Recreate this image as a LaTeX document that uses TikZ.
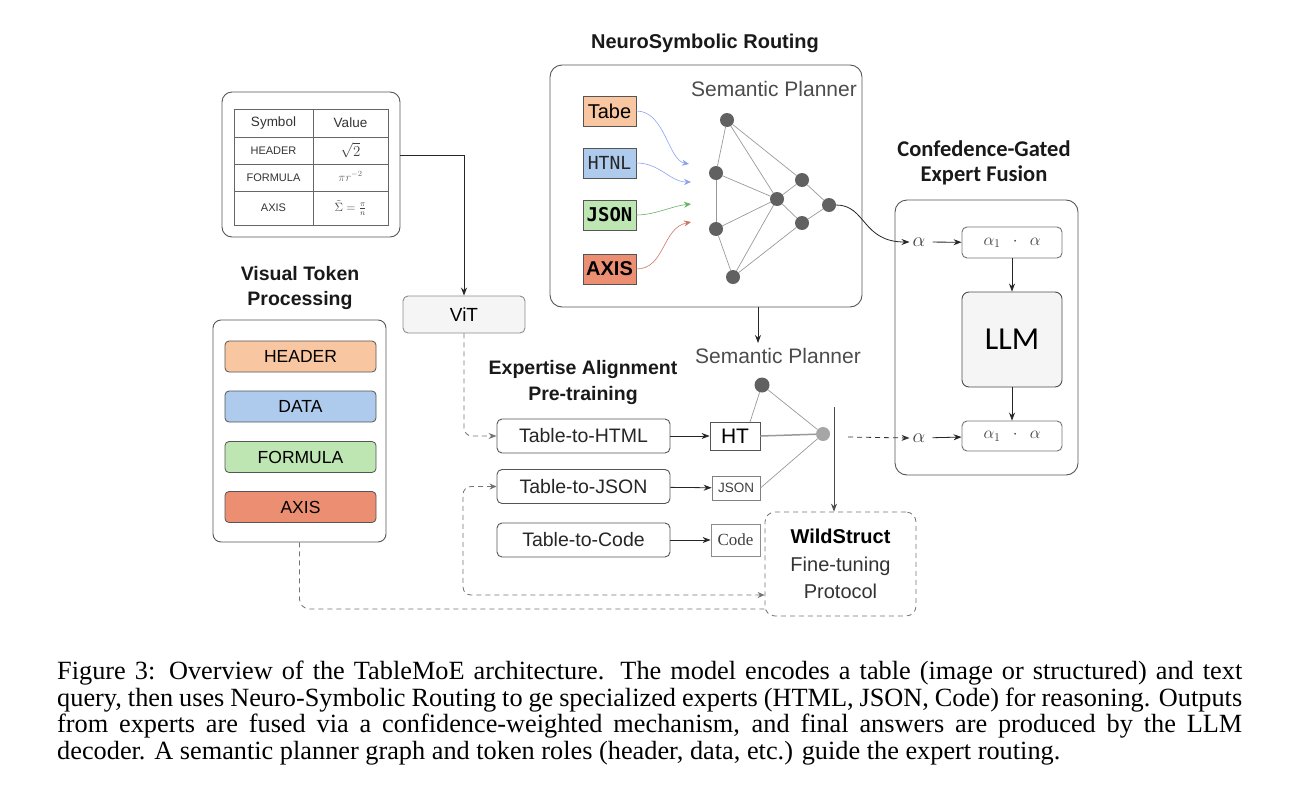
\documentclass[tikz,border=0pt]{standalone}
\usepackage{fix-cm}
\usepackage{fontspec}
\setmainfont{Liberation Serif}
\setsansfont{Liberation Sans}
\newfontfamily\carl{Carlito}
\newfontfamily\dmono{DejaVu Sans Mono}
\usetikzlibrary{arrows.meta,calc}
\newcommand\fsz[2]{\fontsize{#1}{#2}\selectfont}
\definecolor{corg}{HTML}{F8C6A0}
\definecolor{cblu}{HTML}{AECAEC}
\definecolor{cgrn}{HTML}{BDE6B2}
\definecolor{cred}{HTML}{EC8E72}
\definecolor{edgec}{HTML}{555555}
\begin{document}
\begin{tikzpicture}[x=1pt,y=-1pt,
  bx/.style={draw=edgec, rounded corners=5pt, line width=0.9pt, inner sep=0pt},
  sq/.style={draw=edgec, line width=0.8pt, inner sep=0pt},
  bar/.style={draw=edgec, rounded corners=4pt, line width=0.8pt, inner sep=0pt, minimum width=151pt, minimum height=31pt, font=\sffamily\fsz{17.5}{20}},
  rbox/.style={draw=edgec, line width=0.7pt, inner sep=0pt, minimum width=53pt, minimum height=30pt},
  gnode/.style={circle, fill=black!62, minimum size=14pt, inner sep=0pt},
  gedge/.style={draw=black!40, line width=0.7pt},
  arr/.style={-{Stealth[length=8pt,width=6pt]}, line width=0.8pt, draw=black!85},
  dsh/.style={dash pattern=on 5pt off 4pt, draw=black!55, line width=0.8pt},
  ttl/.style={font=\sffamily\bfseries\fsz{19.5}{22}, text=black!90},
  tbt/.style={font=\sffamily\fsz{11}{12}, text=black!80, inner sep=0pt},
  ex/.style={bx, minimum width=173pt, minimum height=34pt, font=\sffamily\fsz{19.5}{22}, text=black!85},
]
\useasboundingbox (0,0) rectangle (1298,806);

% ---------- table image ----------
\node[bx, rounded corners=10pt, minimum width=178pt, minimum height=145pt] (tbl) at (311,164.5) {};
\draw[draw=black!60, line width=0.6pt] (234,109) rectangle (388,225);
\foreach \yy in {137,164,191} \draw[draw=black!60, line width=0.6pt] (234,\yy) -- (388,\yy);
\draw[draw=black!60, line width=0.6pt] (313,109) -- (313,225);
\node[tbt, font=\sffamily\fsz{13.5}{15}] (th1) at (273.5,123) {Symbol};
\node[tbt, font=\sffamily\fsz{13.5}{15}] (th2) at (350.5,123) {Value};
\node[tbt] (r1a) at (273.5,150.5) {HEADER};
\node[tbt] (r2a) at (273.5,177.5) {FORMULA};
\node[tbt] (r3a) at (273.5,208) {AXIS};
\node[text=black!75, inner sep=0pt] (r1b) at (350.5,150.5) {\fsz{15}{16}$\sqrt{2}$};
\node[text=black!60, inner sep=0pt] (r2b) at (350.5,176.5) {\fsz{12}{13}$\pi r^{-2}$};
\node[text=black!75, inner sep=0pt] (r3b) at (350.5,208) {\fsz{12}{13}$\tilde{\Sigma}=\frac{\pi}{n}$};

% ---------- ViT ----------
\node[bx, draw=black!45, fill=black!4, minimum width=122pt, minimum height=37pt, font=\sffamily\fsz{19}{21}] (vit) at (464,314.5) {ViT};
\draw[arr] ([yshift=9.5pt]tbl.east) -| (vit.north);

% ---------- Visual token processing ----------
\node[ttl] (vtt1) at (300,274) {Visual Token};
\node[ttl] (vtt2) at (300,300) {Processing};
\node[bx, rounded corners=8pt, minimum width=173pt, minimum height=222pt] (vtp) at (299.5,431) {};
\node[bar, fill=corg] (bh) at (300.5,356.5) {HEADER};
\node[bar, fill=cblu] (bd) at (300.5,406.5) {DATA};
\node[bar, fill=cgrn] (bf) at (300.5,457) {FORMULA};
\node[bar, fill=cred] (ba) at (300.5,507) {AXIS};

% ---------- NeuroSymbolic Routing ----------
\node[ttl, font=\sffamily\bfseries\fsz{20}{22}] (nsr) at (705,43) {NeuroSymbolic Routing};
\node[bx, rounded corners=12pt, minimum width=312pt, minimum height=242pt] (rout) at (706,186) {};
\node[font=\sffamily\fsz{21}{23}, text=black!70] (sp1) at (774,89) {Semantic Planner};
\node[rbox, fill=corg, font=\sffamily\fsz{20}{22}] (rt) at (609.5,111) {Tabe};
\node[rbox, fill=cblu, font=\dmono\fsz{18}{20}, text=black!85] (rh) at (609.5,163) {HTNL};
\node[rbox, fill=cgrn, font=\dmono\bfseries\fsz{19}{21}] (rj) at (609.5,215) {JSON};
\node[rbox, fill=cred, font=\sffamily\bfseries\fsz{20}{22}] (ra) at (609.5,269) {AXIS};
\coordinate (e1) at (689,164);
\coordinate (e2) at (691,182);
\coordinate (e3) at (691,204);
\coordinate (e4) at (691,222);
\draw[-{Stealth[length=7pt,width=6pt]}, draw=cblu!80!blue, line width=0.6pt] (rt.east) .. controls (665,111) and (668,160) .. (e1);
\draw[-{Stealth[length=7pt,width=6pt]}, draw=cblu!80!blue, line width=0.6pt] (rh.east) .. controls (660,163) and (670,182) .. (e2);
\draw[-{Stealth[length=7pt,width=6pt]}, draw=green!50!black!60, line width=0.6pt] (rj.east) .. controls (655,215) and (672,206) .. (e3);
\draw[-{Stealth[length=7pt,width=6pt]}, draw=cred!85!black, line width=0.6pt] (ra.east) .. controls (665,269) and (662,228) .. (e4);

\node[gnode] (n1) at (727,120) {};
\node[gnode] (n2) at (716,173) {};
\node[gnode] (n3) at (716,229) {};
\node[gnode] (n4) at (733,277) {};
\node[gnode] (n5) at (777,199) {};
\node[gnode] (n6) at (802,180) {};
\node[gnode] (n7) at (802,223) {};
\node[gnode] (n8) at (829,205) {};
\foreach \a/\b in {n1/n2,n1/n5,n1/n6,n2/n3,n2/n5,n3/n5,n3/n4,n4/n5,n4/n7,n5/n6,n5/n7,n6/n8,n7/n8}
  \draw[gedge, shorten <=7pt, shorten >=7pt] (\a.center) -- (\b.center);

% ---------- Confidence-gated fusion ----------
\node[font=\carl\bfseries\fsz{22.5}{25}, text=black!90] (cf1) at (984,149) {Confedence-Gated};
\node[font=\carl\bfseries\fsz{22.5}{25}, text=black!90] (cf2) at (984,175) {Expert Fusion};
\node[bx, rounded corners=12pt, minimum width=183pt, minimum height=275pt] (fus) at (986.5,337.5) {};
\node[inner sep=3pt, text=black!75] (al1) at (919,242) {\fsz{20}{22}$\alpha$};
\node[inner sep=3pt, text=black!75] (al2) at (919,438) {\fsz{20}{22}$\alpha$};
\node[bx, draw=black!55, minimum width=100pt, minimum height=31pt, text=black!75] (f1) at (1012,242.5) {\fsz{17}{19}$\alpha_1\ \ \cdot\ \ \alpha$};
\node[bx, draw=black!70, fill=black!4, rounded corners=7pt, minimum width=100pt, minimum height=95pt, font=\carl\fsz{32}{36}] (llm) at (1012,339.5) {LLM};
\node[bx, draw=black!55, minimum width=100pt, minimum height=30pt, text=black!75] (f2) at (1012,436) {\fsz{17}{19}$\alpha_1\ \ \cdot\ \ \alpha$};
\draw[arr, shorten <=4pt] (al1) -- (f1);
\draw[arr, shorten <=4pt] (al2) -- (f2);
\draw[arr] (f1) -- (llm);
\draw[arr] (llm) -- (f2);
\draw[arr] (n8.east) .. controls (866,205) and (862,242) .. (al1.west);

% ---------- Expertise alignment ----------
\node[ttl] (ea1) at (583,369) {Expertise Alignment};
\node[ttl] (ea2) at (583,395) {Pre-training};
\node[ex] (t2h) at (583.5,436) {Table-to-HTML};
\node[ex] (t2j) at (583.5,486.5) {Table-to-JSON};
\node[ex] (t2c) at (583.5,540) {Table-to-Code};
\node[sq, minimum width=50pt, minimum height=28pt, font=\sffamily\fsz{21}{23}] (ht) at (735,436) {HT};
\node[sq, draw=black!50, minimum width=48pt, minimum height=24pt, font=\sffamily\fsz{13.5}{15}, text=black!75] (js) at (736,488) {JSON};
\node[sq, draw=black!45, minimum width=49pt, minimum height=32pt, font=\rmfamily\fsz{17}{19}, text=black!75] (cd) at (735.5,540) {Code};
\draw[arr] (t2h) -- (ht);
\draw[arr] (t2j) -- (js);
\draw[arr] (t2c) -- (cd);

% lower planner
\coordinate (rb) at (758,307);
\node[font=\sffamily\fsz{21}{23}, text=black!70] (sp2) at (778,356) {Semantic Planner};
\draw[arr] (rb) -- (758,343);
\node[gnode, minimum size=15pt] (m1) at (762,385) {};
\node[circle, fill=black!35, minimum size=14pt, inner sep=0pt] (m2) at (823,434) {};
\draw[gedge] (m1) -- (750,422);
\draw[gedge] (m1) -- (m2);
\draw[draw=black!40, line width=1.5pt] (ht.east) -- (m2);
\draw[gedge] (js.east) -- (m2);

% WildStruct
\node[bx, dsh, rounded corners=10pt, minimum width=151pt, minimum height=104pt, align=center, font=\sffamily\fsz{20}{27.5}, text=black!80] (ws) at (840.5,564)
  {{\bfseries\color{black}WildStruct}\\Fine-tuning\\Protocol};
\coordinate (vtop) at (834,407);
\draw[arr, draw=black!70] (vtop) -- (vtop |- ws.north);
\coordinate (dst) at (848,437);
\draw[arr, dsh, draw=black!80] (dst) -- (al2.west);

% dashed connectors
\draw[arr, dsh, rounded corners=8pt] (vit.south) |- (t2h.west);
\coordinate (c1) at (463,595);
\draw[dsh, {Stealth[length=7pt,width=6pt]}-{Stealth[length=7pt,width=6pt]}, rounded corners=8pt] (t2j.west) -| (c1) -- (c1 -| ws.west);
\coordinate (c2) at (768,609);
\draw[dsh, rounded corners=10pt] (vtp.south) |- (c2);

% ---------- caption ----------
\node[anchor=north west, inner sep=0pt, text width=1185pt, align=justify, font=\rmfamily\fsz{26.3}{26.5}] (cap) at (57,661)
{Figure 3: Overview of the TableMoE architecture. The model encodes a table (image or structured) and text\linebreak
query, then uses Neuro-Symbolic Routing to ge specialized experts (HTML, JSON, Code) for reasoning. Outputs\linebreak
from experts are fused via a confidence-weighted mechanism, and final answers are produced by the LLM\linebreak
decoder. A semantic planner graph and token roles (header, data, etc.) guide the expert routing.};
\end{tikzpicture}
\end{document}
